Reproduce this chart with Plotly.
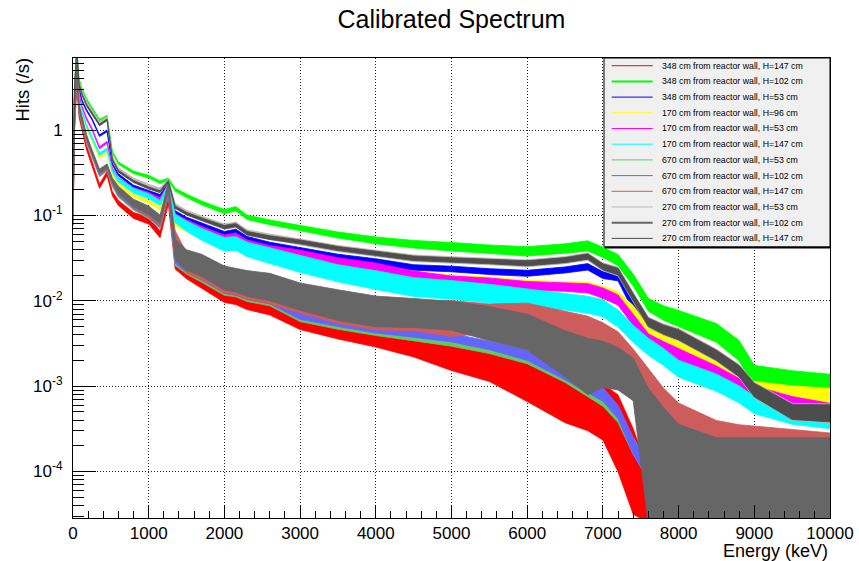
import plotly.graph_objects as go

FONT = "Liberation Sans, Arial, Helvetica, sans-serif"

energy_kev = [0, 20, 50, 80, 120, 180, 250, 350, 450, 520,
              600, 800, 1000, 1150, 1260, 1350, 1500, 1700, 2000, 2150,
              2300, 2600, 3000, 3500, 4000, 4500, 5000, 5500, 6000, 6500,
              6800, 7000, 7200, 7400, 7600, 7800, 8000, 8500, 8800, 9000,
              9500, 10000]

# hit rates (/s), band centre of each noisy spectrum
hits_348_h147 = [0.08, 1.0, 3.6, 1.5, 1.05, 0.62, 0.41, 0.22, 0.31, 0.18,
                 0.14, 0.10, 0.087, 0.06, 0.15, 0.027, 0.021, 0.0165, 0.0115, 0.011,
                 0.0097, 0.0085, 0.0058, 0.0045, 0.0037, 0.0029, 0.0022, 0.0018, 0.0012, 0.00078,
                 0.0006, 0.0005, 0.00028, 0.0001, 5e-5, 1e-5, 1e-5, 1e-5, 1e-5, 1e-5,
                 1e-5, 1e-5]
hits_348_h102 = [0.23, 3.5, 9.0, 3.9, 3.0, 2.27, 1.81, 1.3, 1.45, 0.55,
                 0.41, 0.32, 0.285, 0.245, 0.265, 0.2, 0.17, 0.14, 0.111, 0.12,
                 0.095, 0.083, 0.071, 0.059, 0.051, 0.046, 0.043, 0.04, 0.038, 0.041,
                 0.044, 0.037, 0.03, 0.0175, 0.009, 0.0072, 0.0062, 0.0042, 0.0026, 0.0013,
                 0.0011, 0.001]
hits_348_h53 = [0.18, 2.6, 8.0, 3.0, 2.2, 1.7, 1.35, 0.86, 0.98, 0.40,
                0.30, 0.22, 0.19, 0.17, 0.235, 0.11, 0.092, 0.078, 0.062, 0.066,
                0.054, 0.046, 0.040, 0.033, 0.029, 0.0246, 0.0236, 0.022, 0.021, 0.023,
                0.025, 0.020, 0.019, 0.0085, 0.0042, 0.0034, 0.0027, 0.0014, 0.0009, 0.0007,
                0.0006, 0.0005]
hits_170_h96 = [0.14, 1.8, 6.5, 2.2, 1.55, 1.03, 0.76, 0.48, 0.55, 0.30,
                0.23, 0.17, 0.145, 0.12, 0.21, 0.078, 0.068, 0.056, 0.043, 0.044,
                0.038, 0.034, 0.031, 0.026, 0.023, 0.020, 0.018, 0.017, 0.0155, 0.015,
                0.0145, 0.013, 0.011, 0.0075, 0.0042, 0.0033, 0.0027, 0.0017, 0.0011, 0.0009,
                0.0008, 0.00075]
hits_170_h53 = [0.16, 2.2, 7.5, 2.6, 1.85, 1.35, 1.03, 0.62, 0.72, 0.35,
                0.27, 0.205, 0.18, 0.155, 0.23, 0.10, 0.085, 0.07, 0.055, 0.058,
                0.048, 0.041, 0.036, 0.029, 0.025, 0.020, 0.0175, 0.0165, 0.015, 0.0145,
                0.014, 0.0123, 0.0102, 0.006, 0.0035, 0.0028, 0.0023, 0.0014, 0.001, 0.0008,
                0.0006, 0.0005]
hits_170_h147 = [0.15, 2.0, 7.0, 2.3, 1.65, 1.12, 0.83, 0.52, 0.60, 0.33,
                 0.26, 0.195, 0.168, 0.14, 0.22, 0.092, 0.075, 0.06, 0.046, 0.047,
                 0.040, 0.034, 0.027, 0.021, 0.0175, 0.0145, 0.0134, 0.0121, 0.0107, 0.0098,
                 0.009, 0.0082, 0.0062, 0.0041, 0.0029, 0.0022, 0.0016, 0.0011, 0.0008, 0.0006,
                 0.00045, 0.0004]
hits_670_h53 = [0.10, 1.3, 4.8, 1.7, 1.2, 0.75, 0.50, 0.30, 0.35, 0.23,
                0.175, 0.125, 0.10, 0.077, 0.185, 0.029, 0.023, 0.0185, 0.013, 0.0125,
                0.011, 0.0098, 0.0064, 0.0052, 0.0044, 0.0038, 0.0033, 0.0027, 0.0021, 0.0013,
                0.0009, 0.0007, 0.00045, 0.0002, 0.0001, 0.0001, 0.0001, 0.0001, 0.0001, 0.0001,
                0.0001, 0.0001]
hits_670_h102 = [0.10, 1.3, 5.0, 1.75, 1.25, 0.77, 0.52, 0.31, 0.36, 0.24,
                 0.18, 0.13, 0.104, 0.08, 0.19, 0.031, 0.024, 0.0195, 0.0137, 0.013,
                 0.0116, 0.0103, 0.0068, 0.0056, 0.0047, 0.0042, 0.0037, 0.003, 0.0023, 0.0014,
                 0.001, 0.0008, 0.0005, 0.0002, 0.0001, 0.0001, 0.0001, 0.0001, 0.0001, 0.0001,
                 0.0001, 0.0001]
hits_670_h147 = [0.11, 1.4, 5.0, 1.8, 1.3, 0.8, 0.54, 0.32, 0.37, 0.25,
                 0.19, 0.135, 0.108, 0.085, 0.20, 0.055, 0.0276, 0.024, 0.017, 0.0161,
                 0.0147, 0.0133, 0.0103, 0.0082, 0.0069, 0.0066, 0.0062, 0.0062, 0.0068, 0.0056,
                 0.0049, 0.004, 0.003, 0.0018, 0.001, 0.0006, 0.0004, 0.00028, 0.00025, 0.00024,
                 0.00022, 0.0002]
hits_270_h53 = [0.21, 3.1, 8.7, 3.55, 2.72, 2.03, 1.65, 1.2, 1.37, 0.47,
                0.345, 0.26, 0.22, 0.198, 0.255, 0.13, 0.108, 0.092, 0.074, 0.078,
                0.063, 0.056, 0.049, 0.041, 0.036, 0.0315, 0.030, 0.029, 0.0275, 0.030,
                0.033, 0.025, 0.022, 0.011, 0.0056, 0.0046, 0.0040, 0.0023, 0.0015, 0.0009,
                0.0005, 0.00048]
hits_270_h102 = [0.12, 1.5, 5.5, 1.9, 1.35, 0.83, 0.56, 0.33, 0.38, 0.26,
                 0.20, 0.14, 0.115, 0.09, 0.22, 0.04, 0.03, 0.026, 0.0185, 0.0175,
                 0.016, 0.0145, 0.0112, 0.0089, 0.0075, 0.0072, 0.0067, 0.0054, 0.0043, 0.0024,
                 0.0017, 0.0018, 0.0016, 0.0012, 0.00015, 0.0001, 8e-5, 7e-5, 7e-5, 7e-5,
                 7e-5, 7e-5]
hits_270_h147 = [0.2, 3.0, 8.5, 3.4, 2.6, 1.95, 1.58, 1.15, 1.32, 0.45,
                 0.33, 0.25, 0.21, 0.19, 0.25, 0.125, 0.105, 0.09, 0.073, 0.077,
                 0.062, 0.055, 0.049, 0.041, 0.036, 0.0315, 0.030, 0.029, 0.0275, 0.030,
                 0.033, 0.025, 0.022, 0.011, 0.0056, 0.0046, 0.0040, 0.0023, 0.0015, 0.0009,
                 0.0005, 0.00048]

# half-width of the noise band, in decades
spread_348_h147 = [0.025] * 10 + [0.03, 0.035, 0.04, 0.04, 0.04, 0.06, 0.065, 0.07, 0.08, 0.085,
                                  0.09, 0.095, 0.1, 0.1, 0.11, 0.12, 0.16, 0.2, 0.26, 0.32,
                                  0.3, 0.33, 0.45, 0.5, 0.3, 0.1, 0.1, 0.1, 0.1, 0.1, 0.1, 0.1]
spread_348_h102 = [0.012] * 10 + [0.014, 0.015, 0.016, 0.016, 0.016, 0.018, 0.02, 0.022, 0.024, 0.025,
                                  0.026, 0.028, 0.032, 0.036, 0.04, 0.045, 0.05, 0.052, 0.055, 0.055,
                                  0.06, 0.06, 0.065, 0.07, 0.075, 0.085, 0.095, 0.11, 0.12, 0.13, 0.14, 0.14]
spread_348_h53 = [0.01] * 10 + [0.012, 0.013, 0.014, 0.014, 0.014, 0.015, 0.016, 0.018, 0.02, 0.02,
                                0.022, 0.024, 0.026, 0.028, 0.03, 0.032, 0.033, 0.034, 0.035, 0.035,
                                0.038, 0.04, 0.045, 0.05, 0.06, 0.065, 0.07, 0.08, 0.09, 0.1, 0.1, 0.1]
spread_170_h96 = [0.012] * 10 + [0.015, 0.016, 0.018, 0.018, 0.018, 0.02, 0.022, 0.025, 0.03, 0.03,
                                 0.032, 0.034, 0.036, 0.038, 0.04, 0.042, 0.045, 0.048, 0.05, 0.05,
                                 0.055, 0.06, 0.065, 0.07, 0.075, 0.08, 0.085, 0.09, 0.09, 0.1, 0.1, 0.1]
spread_170_h53 = [0.012] * 10 + [0.014, 0.015, 0.016, 0.016, 0.016, 0.02, 0.022, 0.025, 0.03, 0.03,
                                 0.032, 0.035, 0.038, 0.042, 0.045, 0.047, 0.048, 0.05, 0.05, 0.05,
                                 0.055, 0.06, 0.06, 0.065, 0.07, 0.075, 0.08, 0.09, 0.09, 0.1, 0.1, 0.1]
spread_170_h147 = [0.015] * 10 + [0.025, 0.028, 0.03, 0.03, 0.03, 0.05, 0.06, 0.07, 0.08, 0.08,
                                  0.085, 0.09, 0.1, 0.1, 0.11, 0.11, 0.11, 0.11, 0.11, 0.1,
                                  0.1, 0.1, 0.1, 0.1, 0.1, 0.1, 0.1, 0.1, 0.1, 0.1, 0.1, 0.1]
spread_670_h53 = [0.025] * 10 + [0.03, 0.035, 0.04, 0.04, 0.04, 0.05, 0.05, 0.05, 0.05, 0.05,
                                 0.05, 0.05, 0.05, 0.05, 0.05, 0.05, 0.05, 0.05, 0.06, 0.07,
                                 0.08, 0.08, 0.08, 0.1, 0.1, 0.1, 0.1, 0.1, 0.1, 0.1, 0.1, 0.1]
spread_670_h102 = list(spread_670_h53)
spread_670_h147 = [0.025] * 10 + [0.03, 0.04, 0.05, 0.05, 0.05, 0.08, 0.12, 0.13, 0.14, 0.14,
                                  0.15, 0.16, 0.16, 0.18, 0.18, 0.17, 0.21, 0.17, 0.14, 0.13,
                                  0.13, 0.14, 0.16, 0.18, 0.2, 0.2, 0.2, 0.15, 0.15, 0.15, 0.15, 0.15]
spread_270_h53 = [0.022] * 10 + [0.023, 0.024, 0.024, 0.024, 0.024, 0.026, 0.027, 0.029, 0.032, 0.032,
                                 0.033, 0.034, 0.035, 0.036, 0.037, 0.039, 0.04, 0.041, 0.042, 0.042,
                                 0.044, 0.047, 0.052, 0.057, 0.062, 0.067, 0.072, 0.072, 0.077, 0.092, 0.1, 0.11]
spread_270_h102 = [0.025] * 10 + [0.04, 0.045, 0.05, 0.05, 0.05, 0.12, 0.12, 0.13, 0.14, 0.14,
                                  0.15, 0.16, 0.16, 0.18, 0.18, 0.17, 0.17, 0.2, 0.21, 0.27,
                                  0.33, 0.27, 0.25, 0.25, 0.8, 0.75, 0.65, 0.55, 0.55, 0.55, 0.55, 0.55]
spread_270_h147 = [0.01] * 10 + [0.011, 0.012, 0.012, 0.012, 0.012, 0.014, 0.015, 0.017, 0.02, 0.02,
                                 0.021, 0.022, 0.023, 0.024, 0.025, 0.027, 0.028, 0.029, 0.03, 0.03,
                                 0.032, 0.035, 0.04, 0.045, 0.05, 0.055, 0.06, 0.06, 0.065, 0.08, 0.09, 0.1]

series = [
    ("348 cm from reactor wall, H=147 cm", "#ff0000", 1, hits_348_h147, spread_348_h147),
    ("348 cm from reactor wall, H=102 cm", "#00ff00", 2, hits_348_h102, spread_348_h102),
    ("348 cm from reactor wall, H=53 cm", "#0000ff", 1, hits_348_h53, spread_348_h53),
    ("170 cm from reactor wall, H=96 cm", "#ffff00", 1, hits_170_h96, spread_170_h96),
    ("170 cm from reactor wall, H=53 cm", "#ff00ff", 1, hits_170_h53, spread_170_h53),
    ("170 cm from reactor wall, H=147 cm", "#00ffff", 1, hits_170_h147, spread_170_h147),
    ("670 cm from reactor wall, H=53 cm", "#5fcc5f", 1, hits_670_h53, spread_670_h53),
    ("670 cm from reactor wall, H=102 cm", "#6464ff", 1, hits_670_h102, spread_670_h102),
    ("670 cm from reactor wall, H=147 cm", "#cd5c5c", 1, hits_670_h147, spread_670_h147),
    ("270 cm from reactor wall, H=53 cm", "#c2b6b0", 1, hits_270_h53, spread_270_h53),
    ("270 cm from reactor wall, H=102 cm", "#666666", 2, hits_270_h102, spread_270_h102),
    ("270 cm from reactor wall, H=147 cm", "#4d4d4d", 1, hits_270_h147, spread_270_h147),
]

fig = go.Figure()
for label, color, key_width, hits, spread in series:
    upper = [h * 10 ** s for h, s in zip(hits, spread)]
    lower = [h / 10 ** s for h, s in zip(hits, spread)]
    fig.add_trace(go.Scatter(
        x=energy_kev + energy_kev[::-1],
        y=upper + lower[::-1],
        fill="toself",
        fillcolor=color,
        mode="lines",
        line=dict(color=color, width=0.8),
        name=label,
        showlegend=False,
        hoverinfo="skip",
    ))

# ROOT-like legend box drawn by hand (plotly legend rows are too tall)
PLOT_W, PLOT_H = 757, 460
def px_x(px):
    return (px - 73) / PLOT_W
def px_y(py):
    return (518 - py) / PLOT_H

shapes = [dict(type="rect", xref="paper", yref="paper",
               x0=px_x(604), x1=px_x(830), y0=px_y(247), y1=px_y(58),
               fillcolor="#f0f0f0", line=dict(color="black", width=1), layer="above"),
          dict(type="line", xref="paper", yref="paper",
               x0=px_x(605), x1=px_x(831), y0=px_y(247.5), y1=px_y(247.5),
               line=dict(color="black", width=2), layer="above")]
annotations = []
for i, (label, color, key_width, hits, spread) in enumerate(series):
    row = px_y(65.7 + 15.7 * i)
    shapes.append(dict(type="line", xref="paper", yref="paper",
                       x0=px_x(611.7), x1=px_x(652.7), y0=row, y1=row,
                       line=dict(color=color, width=key_width), layer="above"))
    annotations.append(dict(text=label, xref="paper", yref="paper", x=px_x(660), y=row,
                            xanchor="left", yanchor="middle", showarrow=False,
                            font=dict(family=FONT, size=8.75, color="black")))

annotations.append(dict(text="Energy (keV)", xref="paper", yref="paper", x=1.0, y=px_y(551),
                        xanchor="right", yanchor="middle", showarrow=False,
                        font=dict(family=FONT, size=18, color="black")))
annotations.append(dict(text="Hits (/s)", xref="paper", yref="paper", x=px_x(22), y=px_y(89.5),
                        xanchor="center", yanchor="middle", showarrow=False, textangle=-90,
                        font=dict(family=FONT, size=18.5, color="black")))

decades = [1e-4, 1e-3, 1e-2, 1e-1, 1]
decade_text = ["10<sup>-4</sup>", "10<sup>-3</sup>", "10<sup>-2</sup>", "10<sup>-1</sup>", "1"]
minor_vals = [k * 10 ** p for p in range(-5, 1) for k in range(2, 10)]

fig.update_layout(
    width=859, height=561,
    margin=dict(l=73, r=29, t=58, b=43),
    paper_bgcolor="white", plot_bgcolor="white",
    font=dict(family=FONT, color="black"),
    title=dict(text="Calibrated Spectrum", x=0.5, xref="paper", xanchor="center",
               y=1 - 19.5 / 561, yref="container", yanchor="middle",
               font=dict(family=FONT, size=25, color="black")),
    showlegend=False,
    hovermode=False,
    shapes=shapes,
    annotations=annotations,
)
fig.update_xaxes(
    range=[0, 10000], tick0=0, dtick=1000, tickformat="d", automargin=False,
    ticks="inside", ticklen=13, tickcolor="black", tickwidth=1,
    minor=dict(dtick=200, ticks="inside", ticklen=7, tickcolor="black", showgrid=False),
    showgrid=True, gridcolor="#222222", griddash="1px,2px", gridwidth=1,
    showline=True, linecolor="black", linewidth=1, mirror=True, zeroline=False,
    tickfont=dict(family=FONT, size=17, color="black"), ticklabelstandoff=0,
)
fig.update_yaxes(
    type="log", range=[-4.545, 0.845], automargin=False,
    tickmode="array", tickvals=decades, ticktext=decade_text,
    ticks="inside", ticklen=23, tickcolor="black", tickwidth=1,
    minor=dict(tickmode="array", tickvals=minor_vals, ticks="inside", ticklen=11,
               tickcolor="black", showgrid=False),
    showgrid=True, gridcolor="#222222", griddash="1px,2px", gridwidth=1,
    showline=True, linecolor="black", linewidth=1, mirror=True, zeroline=False,
    tickfont=dict(family=FONT, size=17, color="black"), ticklabelstandoff=6,
)

fig.write_html("out.html", config={"displayModeBar": False},
               post_script="document.body.style.margin='0px';")
